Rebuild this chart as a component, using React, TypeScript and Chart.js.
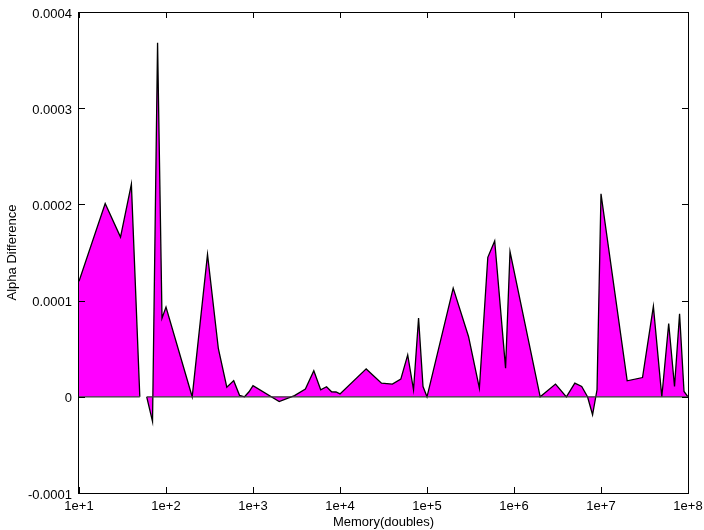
import { useEffect, useRef } from 'react';
import { Chart, registerables } from 'chart.js';

Chart.register(...registerables);

// Memory sizes (doubles); the null entry at 55 marks the break in the curve
const memorySizes: number[] = [
  10, 20, 30, 40, 50, 55,
  60, 70, 80, 90, 100,
  200, 300, 400, 500, 600, 700, 800, 900, 1000,
  2000, 3000, 4000, 5000, 6000, 7000, 8000, 9000, 10000,
  20000, 30000, 40000, 50000, 60000, 70000, 80000, 90000, 100000,
  200000, 300000, 400000, 500000, 600000, 800000, 900000,
  2000000, 3000000, 4000000, 5000000, 6000000, 7000000, 8000000, 9000000, 10000000,
  20000000, 30000000, 40000000, 50000000, 60000000, 70000000, 80000000, 90000000, 100000000,
];

const alphaDifference: (number | null)[] = [
  0.000120, 0.000201, 0.000166, 0.000221, 0.0, null,
  0.0, -0.0000257, 0.000368, 0.0000818, 0.0000932,
  0.0, 0.000148, 0.000050, 0.0000100, 0.0000168, 0.0000015, 0.0, 0.0000052, 0.0000116,
  -0.0000050, 0.0000013, 0.0000080, 0.0000270, 0.0000073, 0.0000104, 0.0000052, 0.0000050, 0.0000030,
  0.0000290, 0.0000142, 0.0000132, 0.0000184, 0.0000436, 0.0000073, 0.0000818, 0.0000107, 0.0,
  0.000113, 0.0000627, 0.0000090, 0.000145, 0.000162, 0.0000298, 0.000151,
  0.0, 0.0000132, 0.0, 0.0000142, 0.0000107, 0.0, -0.0000187, 0.0000073, 0.000211,
  0.0000166, 0.0000200, 0.0000940, 0.0, 0.0000762, 0.0000107, 0.0000862, 0.0000055, 0.0,
];

const xTickValues: number[] = [1e1, 1e2, 1e3, 1e4, 1e5, 1e6, 1e7, 1e8];
const xTickLabels: string[] = ['1e+1', '1e+2', '1e+3', '1e+4', '1e+5', '1e+6', '1e+7', '1e+8'];
const yTickValues: number[] = [-0.0001, 0, 0.0001, 0.0002, 0.0003, 0.0004];
const yTickLabels: string[] = ['-0.0001', '0', '0.0001', '0.0002', '0.0003', '0.0004'];

const FONT = 'Liberation Sans, Arial, Helvetica, sans-serif';

const framePlugin = {
  id: 'gnuplotFrame',
  afterDatasetsDraw(chart: any) {
    const { ctx, chartArea: a, scales } = chart;
    ctx.save();
    ctx.strokeStyle = '#000';
    ctx.lineWidth = 1;
    ctx.beginPath();
    const tick = 6;
    xTickValues.forEach((v) => {
      const px = Math.round(scales.x.getPixelForValue(v)) + 0.5;
      ctx.moveTo(px, a.bottom);
      ctx.lineTo(px, a.bottom - tick);
      ctx.moveTo(px, a.top);
      ctx.lineTo(px, a.top + tick);
    });
    yTickValues.forEach((v) => {
      const py = Math.round(scales.y.getPixelForValue(v)) + 0.5;
      ctx.moveTo(a.left, py);
      ctx.lineTo(a.left + tick, py);
      ctx.moveTo(a.right, py);
      ctx.lineTo(a.right - tick, py);
    });
    ctx.stroke();
    ctx.strokeRect(Math.round(a.left) - 0.5, Math.round(a.top) + 0.5, Math.round(a.width) + 1, Math.round(a.height));
    ctx.restore();
  },
};

const zeroPadding = (scale: any) => {
  scale.paddingLeft = 0;
  scale.paddingRight = 0;
  scale.paddingTop = 0;
  scale.paddingBottom = 0;
};

export default function App() {
  const canvasRef = useRef<HTMLCanvasElement | null>(null);

  useEffect(() => {
    const canvas = canvasRef.current;
    if (!canvas) return;
    const mainData = memorySizes.map((x, i) => ({ x, y: alphaDifference[i] }));
    const baseData = memorySizes.map((x, i) => ({ x, y: alphaDifference[i] === null ? null : 0 }));

    const chart = new Chart(canvas, {
      type: 'line',
      data: {
        datasets: [
          {
            data: baseData as any,
            borderColor: '#3a3a3a',
            borderWidth: 1.2,
            pointRadius: 0,
            fill: false,
            spanGaps: false,
            order: 0,
          },
          {
            data: mainData as any,
            borderColor: '#000000',
            borderWidth: 1.3,
            backgroundColor: '#ff00ff',
            pointRadius: 0,
            fill: 'origin',
            tension: 0,
            spanGaps: false,
            order: 1,
          },
        ],
      },
      options: {
        responsive: false,
        animation: false,
        layout: { padding: { top: 12, right: 16, left: 0, bottom: 0 } },
        plugins: {
          legend: { display: false },
          tooltip: { enabled: false },
        },
        scales: {
          x: {
            type: 'logarithmic',
            min: 1e1,
            max: 1e8,
            grid: { display: false, drawTicks: false },
            border: { display: false },
            afterBuildTicks: (scale: any) => {
              scale.ticks = xTickValues.map((v) => ({ value: v }));
            },
            afterFit: (scale: any) => {
              scale.height = 37;
              zeroPadding(scale);
            },
            ticks: {
              autoSkip: false,
              maxRotation: 0,
              padding: 6,
              color: '#000',
              font: { family: FONT, size: 13 },
              callback: (value: any) => {
                const i = xTickValues.indexOf(Number(value));
                return i >= 0 ? xTickLabels[i] : '';
              },
            },
            title: {
              display: true,
              text: 'Memory(doubles)',
              color: '#000',
              font: { family: FONT, size: 13 },
              padding: { top: 0, bottom: 0 },
            },
          },
          y: {
            type: 'linear',
            min: -0.0001,
            max: 0.0004,
            grid: { display: false, drawTicks: false },
            border: { display: false },
            afterBuildTicks: (scale: any) => {
              scale.ticks = yTickValues.map((v) => ({ value: v }));
            },
            afterFit: (scale: any) => {
              scale.width = 79;
              zeroPadding(scale);
            },
            ticks: {
              padding: 7,
              labelOffset: 2,
              color: '#000',
              font: { family: FONT, size: 13 },
              callback: (value: any) => {
                const v = Number(value);
                const i = yTickValues.findIndex((t) => Math.abs(t - v) < 1e-9);
                return i >= 0 ? yTickLabels[i] : '';
              },
            },
            title: {
              display: true,
              text: 'Alpha Difference',
              color: '#000',
              font: { family: FONT, size: 13 },
              padding: { top: 5, bottom: 0 },
            },
          },
        },
      },
      plugins: [framePlugin],
    });

    return () => {
      chart.destroy();
    };
  }, []);

  return (
    <div style={{ position: 'absolute', left: 0, top: 0, width: 704, height: 530, background: '#fff' }}>
      <canvas ref={canvasRef} width={704} height={530} style={{ display: 'block' }} />
    </div>
  );
}
